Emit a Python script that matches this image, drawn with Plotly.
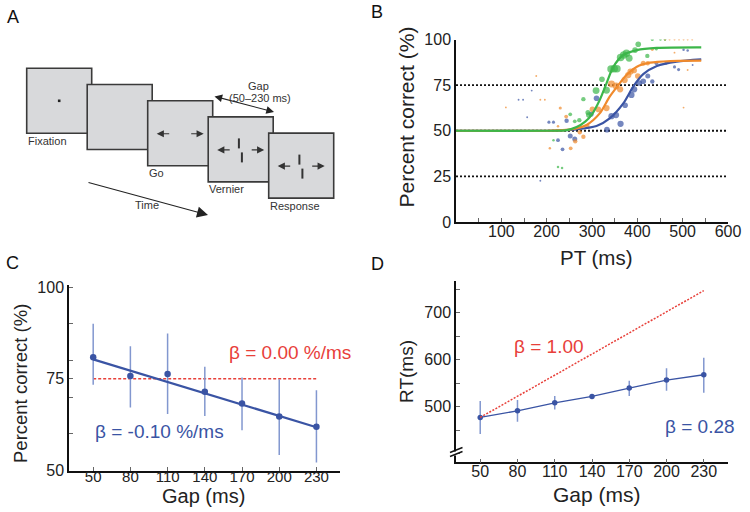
import plotly.graph_objects as go

W, H = 750, 512
def fx(p): return p / W
def fy(p): return 1 - p / H

FONT = "Liberation Sans, Arial, Helvetica, sans-serif"
BLUE = "#3a54a4"
ORANGE = "#f08a2c"
GREEN = "#3cb64a"
RED = "#e8403a"
ERR = "#8297cf"
INK = "#222222"

# ---------------- Panel B data ----------------
pt_tick_labels = [100, 200, 300, 400, 500, 600]
pct_tick_labels = [0, 25, 50, 75, 100]
ref_levels = [25, 50, 75]

blue_pt = [138, 148, 157, 167, 186, 205, 215, 225, 235, 244, 252, 262, 298, 310, 333, 343, 353, 363,
           373, 387, 393, 404, 413, 423, 433, 442, 463, 482, 491, 502, 511, 522]
blue_pc = [67, 67, 57.4, 72, 22.6, 54.7, 54.7, 44.8, 39.8, 55.5, 47.1, 45.5, 59, 67.8, 50.6, 58, 58.6, 53.8,
           64, 69.6, 72.7, 76.2, 77.1, 80, 77, 87, 87, 85, 83.5, 94.4, 94, 86]
blue_sz = [1.5, 1.5, 1.5, 1.5, 1.5, 2.5, 2.5, 3, 3, 3.5, 4, 4, 4, 4.5, 4.5, 5, 5, 5,
           4.5, 5, 5, 4.5, 4.5, 4, 3.5, 3, 2.5, 2.5, 2.5, 2, 2, 1.5]

orange_pt = [110, 177, 186, 196, 207, 230, 225, 243, 253, 263, 273, 281, 290, 301, 314, 332, 343, 353, 362,
             372, 380, 385, 393, 401, 413, 423, 433, 443, 461, 471, 482, 482, 492, 502, 502, 511, 511, 521]
orange_pc = [62.8, 80, 67, 67, 40.4, 62.5, 52.4, 57.8, 40.4, 44.2, 49.2, 46.7, 52.6, 61.8, 61.7, 62.4, 75.6, 74.5, 72.7,
             77.8, 80.5, 82.4, 83, 80, 87, 87, 94.6, 87.5, 100, 100, 100, 92.8, 100, 100, 62.7, 100, 83.3, 100]
orange_sz = [1.5, 1.5, 1.5, 1.5, 2, 2.5, 2, 3, 3, 3.5, 3.5, 3.5, 3.5, 4.5, 4.5, 5, 5.5, 5.5, 5,
             5, 5, 5, 4.5, 4.5, 4, 3.5, 2.5, 2, 2, 1.5, 1.5, 1.5, 1.5, 1.5, 1.5, 1.5, 1.5, 1.5]

green_pt = [215, 225, 234, 252, 262, 272, 281, 291, 293, 309, 322, 332, 342, 349, 355, 363, 370, 376,
            382, 395, 402, 422, 433, 442, 451, 461]
green_pc = [44.8, 30.2, 29.6, 59, 55.2, 55.8, 67.3, 60, 58.6, 72, 78.2, 72.2, 83.8, 84, 84, 90.2, 91.5, 92.4,
            89.7, 94.2, 97.4, 91, 100, 94.6, 100, 100]
green_sz = [2, 2, 2, 3, 3, 3.5, 3.5, 4, 4.5, 5.5, 4.5, 5.5, 6, 6, 6, 6, 6, 6,
            5.5, 4.5, 4.5, 3.5, 2.5, 2, 2, 2]

# fitted psychometric curves
blue_fit_pt = [0, 200, 266, 310, 339, 369, 391, 413, 443, 487, 541]
blue_fit_pc = [50, 50, 50.8, 52.6, 56.8, 65, 74.2, 81, 85.5, 87.9, 89.1]
orange_fit_pt = [0, 200, 250, 288, 317, 339, 358, 376, 399, 428, 473, 541]
orange_fit_pc = [50, 50, 50.6, 53.2, 59.5, 68.7, 75, 80.5, 85.1, 87.3, 88.2, 88.4]
green_fit_pt = [0, 200, 245, 266, 285, 300, 317, 332, 347, 369, 399, 443, 541]
green_fit_pc = [50, 50, 50.3, 52, 55, 59, 66.8, 76, 85, 91.5, 94.2, 95.4, 95.7]

# ---------------- Panel C data ----------------
gap = [50, 80, 110, 140, 170, 200, 230]
c_pct = [80.9, 75.8, 76.3, 71.5, 68.3, 64.7, 61.9]
c_upper = [90.0, 83.9, 87.4, 78.3, 75.4, 74.9, 71.9]
c_lower = [73.4, 67.2, 65.4, 64.9, 61.0, 54.2, 52.2]
c_fit_gap = [50, 230]
c_fit_pct = [80.3, 61.8]
c_ref_pct = [75, 75]
c_pct_ticks = [50, 75, 100]

# ---------------- Panel D data ----------------
d_rt = [477.4, 491.5, 508.5, 522.0, 539.8, 556.8, 568.1]
d_upper = [512.5, 514.3, 522.8, 524.0, 555.3, 581.7, 604.3]
d_lower = [442.0, 468.0, 494.3, 520.0, 522.8, 534.0, 529.8]
d_ref_gap = [50, 230]
d_ref_rt = [477.4, 746.8]
d_rt_ticks = [500, 600, 700]

fig = go.Figure()

# ---- Panel B traces
for pt, pc, sz, c in [(blue_pt, blue_pc, blue_sz, BLUE), (orange_pt, orange_pc, orange_sz, ORANGE),
                      (green_pt, green_pc, green_sz, GREEN)]:
    fig.add_trace(go.Scatter(x=pt, y=pc, mode="markers", xaxis="x", yaxis="y",
                             marker=dict(color=c, size=[s * 1.25 for s in sz], line=dict(width=0)),
                             showlegend=False, hoverinfo="skip"))
for pt, pc, c in [(blue_fit_pt, blue_fit_pc, BLUE), (orange_fit_pt, orange_fit_pc, ORANGE),
                  (green_fit_pt, green_fit_pc, GREEN)]:
    fig.add_trace(go.Scatter(x=pt, y=pc, mode="lines", xaxis="x", yaxis="y",
                             line=dict(color=c, width=2.2, shape="spline", smoothing=0.8),
                             showlegend=False, hoverinfo="skip"))

# ---- Panel C traces
fig.add_trace(go.Scatter(x=c_fit_gap, y=c_ref_pct, mode="lines", xaxis="x2", yaxis="y2",
                         line=dict(color=RED, width=1.5, dash="3px,2px"), showlegend=False))
fig.add_trace(go.Scatter(x=gap, y=c_pct, mode="markers", xaxis="x2", yaxis="y2",
                         marker=dict(color=BLUE, size=6.5),
                         error_y=dict(type="data", array=[u - p for u, p in zip(c_upper, c_pct)],
                                      arrayminus=[p - l for p, l in zip(c_pct, c_lower)],
                                      color=ERR, thickness=1.5, width=0),
                         showlegend=False))
fig.add_trace(go.Scatter(x=c_fit_gap, y=c_fit_pct, mode="lines", xaxis="x2", yaxis="y2",
                         line=dict(color=BLUE, width=2.2), showlegend=False))

# ---- Panel D traces
fig.add_trace(go.Scatter(x=gap, y=d_rt, mode="lines+markers", xaxis="x3", yaxis="y3",
                         line=dict(color=BLUE, width=1.3),
                         marker=dict(color=BLUE, size=5.5),
                         error_y=dict(type="data", array=[u - p for u, p in zip(d_upper, d_rt)],
                                      arrayminus=[p - l for p, l in zip(d_rt, d_lower)],
                                      color=ERR, thickness=1.5, width=0),
                         showlegend=False))
fig.add_trace(go.Scatter(x=d_ref_gap, y=d_ref_rt, mode="lines", xaxis="x3", yaxis="y3",
                         line=dict(color=RED, width=1.5, dash="2px,1.5px"), showlegend=False))

axis_common = dict(showline=True, linecolor="#111111", linewidth=1.5, showgrid=False, zeroline=False,
                   ticks="inside", ticklen=4, tickcolor="#666666", tickwidth=1, automargin=False,
                   tickfont=dict(family=FONT, size=16, color=INK), fixedrange=True)

shapes = []
annotations = []

# B reference dotted lines
for lv in ref_levels:
    shapes.append(dict(type="line", xref="x domain", yref="y", x0=0, x1=1, y0=lv, y1=lv,
                       line=dict(color="#111111", width=1.8, dash="2px,2px"), layer="below"))

# ---------------- Panel A schematic ----------------
sq_x0, sq_y0, sq_dx, sq_dy, sq_size = 26.7, 68.3, 60.5, 16.2, 65
sq_labels = ["Fixation", "", "Go", "Vernier", "Response"]
sq_content = ["dot", "", "arrows", "vernier", "vernier"]
for i in range(5):
    L = sq_x0 + i * sq_dx
    T = sq_y0 + i * sq_dy
    shapes.append(dict(type="rect", xref="paper", yref="paper", x0=fx(L), x1=fx(L + sq_size),
                       y0=fy(T + sq_size), y1=fy(T), fillcolor="#d8d9db",
                       line=dict(color="#3a3a3a", width=1.6), layer="above"))
    if sq_labels[i]:
        annotations.append(dict(text=sq_labels[i], xref="paper", yref="paper", x=fx(L - 1),
                                y=fy(T + sq_size + 7.5), xanchor="left", yanchor="middle",
                                showarrow=False, font=dict(family=FONT, size=11, color="#333333")))
    cy = T + 33
    if sq_content[i] == "dot":
        cx = L + sq_size / 2
        shapes.append(dict(type="rect", xref="paper", yref="paper", x0=fx(cx - 1.3), x1=fx(cx + 1.3),
                           y0=fy(T + 32.5 + 1.3), y1=fy(T + 32.5 - 1.3), fillcolor="#222222",
                           line=dict(width=0)))
    if sq_content[i] in ("arrows", "vernier"):
        annotations.append(dict(text="", x=fx(L + 9), y=fy(cy), xref="paper", yref="paper",
                                ax=14, ay=0, showarrow=True, arrowhead=2, arrowsize=1.3,
                                arrowwidth=1.1, arrowcolor="#333333"))
        annotations.append(dict(text="", x=fx(L + 56), y=fy(cy), xref="paper", yref="paper",
                                ax=-14, ay=0, showarrow=True, arrowhead=2, arrowsize=1.3,
                                arrowwidth=1.1, arrowcolor="#333333"))
    if sq_content[i] == "vernier":
        shapes.append(dict(type="line", xref="paper", yref="paper", x0=fx(L + 30.7), x1=fx(L + 30.7),
                           y0=fy(T + 21.5), y1=fy(T + 31.5), line=dict(color="#333333", width=2)))
        shapes.append(dict(type="line", xref="paper", yref="paper", x0=fx(L + 33.7), x1=fx(L + 33.7),
                           y0=fy(T + 35.5), y1=fy(T + 45.5), line=dict(color="#333333", width=2)))

# time arrow
annotations.append(dict(text="", x=fx(208), y=fy(215), xref="paper", yref="paper", ax=-121, ay=-33,
                        showarrow=True, arrowhead=2, arrowsize=2, arrowwidth=1.1, arrowcolor="#222222"))
annotations.append(dict(text="Time", x=fx(133), y=fy(205), xref="paper", yref="paper", showarrow=False,
                        font=dict(family=FONT, size=11, color="#333333")))
# gap double arrow
annotations.append(dict(text="", x=fx(274), y=fy(112), xref="paper", yref="paper", ax=-61, ay=-16,
                        showarrow=True, arrowhead=2, startarrowhead=2, arrowside="end+start",
                        arrowsize=1.4, startarrowsize=1.4, arrowwidth=1.1, arrowcolor="#222222"))
annotations.append(dict(text="Gap", x=fx(258), y=fy(78), xref="paper", yref="paper", showarrow=False,
                        font=dict(family=FONT, size=11, color="#333333")))
annotations.append(dict(text="(50–230 ms)", x=fx(260), y=fy(89.5), xref="paper", yref="paper",
                        showarrow=False, font=dict(family=FONT, size=11, color="#333333")))

# panel letters
for letter, x, y in [("A", 13, 17), ("B", 377, 12), ("C", 12, 263), ("D", 377, 264)]:
    annotations.append(dict(text=letter, x=fx(x), y=fy(y), xref="paper", yref="paper", showarrow=False,
                            xanchor="center", yanchor="middle", font=dict(family=FONT, size=18, color="#111111")))

# axis titles
def title(text, x, y, size, angle=0):
    annotations.append(dict(text=text, x=fx(x), y=fy(y), xref="paper", yref="paper", showarrow=False,
                            xanchor="center", yanchor="middle", textangle=angle,
                            font=dict(family=FONT, size=size, color=INK)))

title("Percent correct (%)", 405.5, 117, 21, -90)
title("PT (ms)", 596, 257, 20.5)
title("Percent correct (%)", 20, 384, 18.5, -90)
title("Gap (ms)", 203, 496, 20)
title("RT(ms)", 406.5, 371.5, 19, -90)
title("Gap (ms)", 597, 494, 21)

# beta texts
for text, x, y, col in [("β = 0.00 %/ms", 290, 352.5, RED), ("β = -0.10 %/ms", 159, 431.5, BLUE),
                        ("β = 1.00", 548.5, 346, RED), ("β = 0.28", 700, 426.5, BLUE)]:
    annotations.append(dict(text=text, x=fx(x), y=fy(y), xref="paper", yref="paper", showarrow=False,
                            xanchor="center", yanchor="middle", font=dict(family=FONT, size=19, color=col)))

# D axis break
shapes.append(dict(type="rect", xref="paper", yref="paper", x0=fx(454), x1=fx(458), y0=fy(455.5),
                   y1=fy(451.5), fillcolor="white", line=dict(width=0), layer="above"))
for yy in (452.5, 456.5):
    shapes.append(dict(type="line", xref="paper", yref="paper", x0=fx(450), x1=fx(462.5),
                       y0=fy(yy), y1=fy(yy - 5), line=dict(color="#111111", width=1.4), layer="above"))

c_xaxis_style = {**axis_common, "tickfont": dict(family=FONT, size=15, color=INK)}

fig.update_layout(
    template="none",
    width=W, height=H, margin=dict(l=0, r=0, t=0, b=0, pad=0, autoexpand=False),
    paper_bgcolor="white", plot_bgcolor="rgba(0,0,0,0)", showlegend=False,
    font=dict(family=FONT, color=INK),
    xaxis=dict(domain=[fx(456), fx(728)], range=[0, 600], anchor="y", ticklabelstandoff=-6,
               tickvals=pt_tick_labels, minor=dict(ticks="inside", tick0=0, dtick=50, ticklen=4,
                                                  tickcolor="#666666"),
               **axis_common),
    yaxis=dict(domain=[fy(222), fy(39.5)], range=[0, 100], anchor="x", tickvals=pct_tick_labels,
               **{**axis_common, "ticks": ""}),
    xaxis2=dict(domain=[fx(69), fx(340)], range=[30.5, 249], anchor="y2", tickvals=gap,
                ticklabelstandoff=-8, **c_xaxis_style),
    yaxis2=dict(domain=[fy(470.5), fy(285)], range=[50, 100.6], anchor="x2", tickvals=c_pct_ticks,
                minor=dict(ticks="inside", tick0=50, dtick=10, ticklen=4, tickcolor="#666666"),
                **axis_common),
    xaxis3=dict(domain=[fx(456), fx(728)], range=[30.5, 249.5], anchor="y3", tickvals=gap,
                ticklabelstandoff=-6, **axis_common),
    yaxis3=dict(domain=[fy(462.3), fy(280.7)], range=[382, 768], anchor="x3", tickvals=d_rt_ticks,
                minor=dict(ticks="inside", tick0=400, dtick=50, ticklen=4, tickcolor="#666666"),
                **axis_common),
    shapes=shapes, annotations=annotations,
)

fig.write_html("out.html", config={"displayModeBar": False},
               post_script="document.body.style.margin='0';document.body.style.overflow='hidden';")
